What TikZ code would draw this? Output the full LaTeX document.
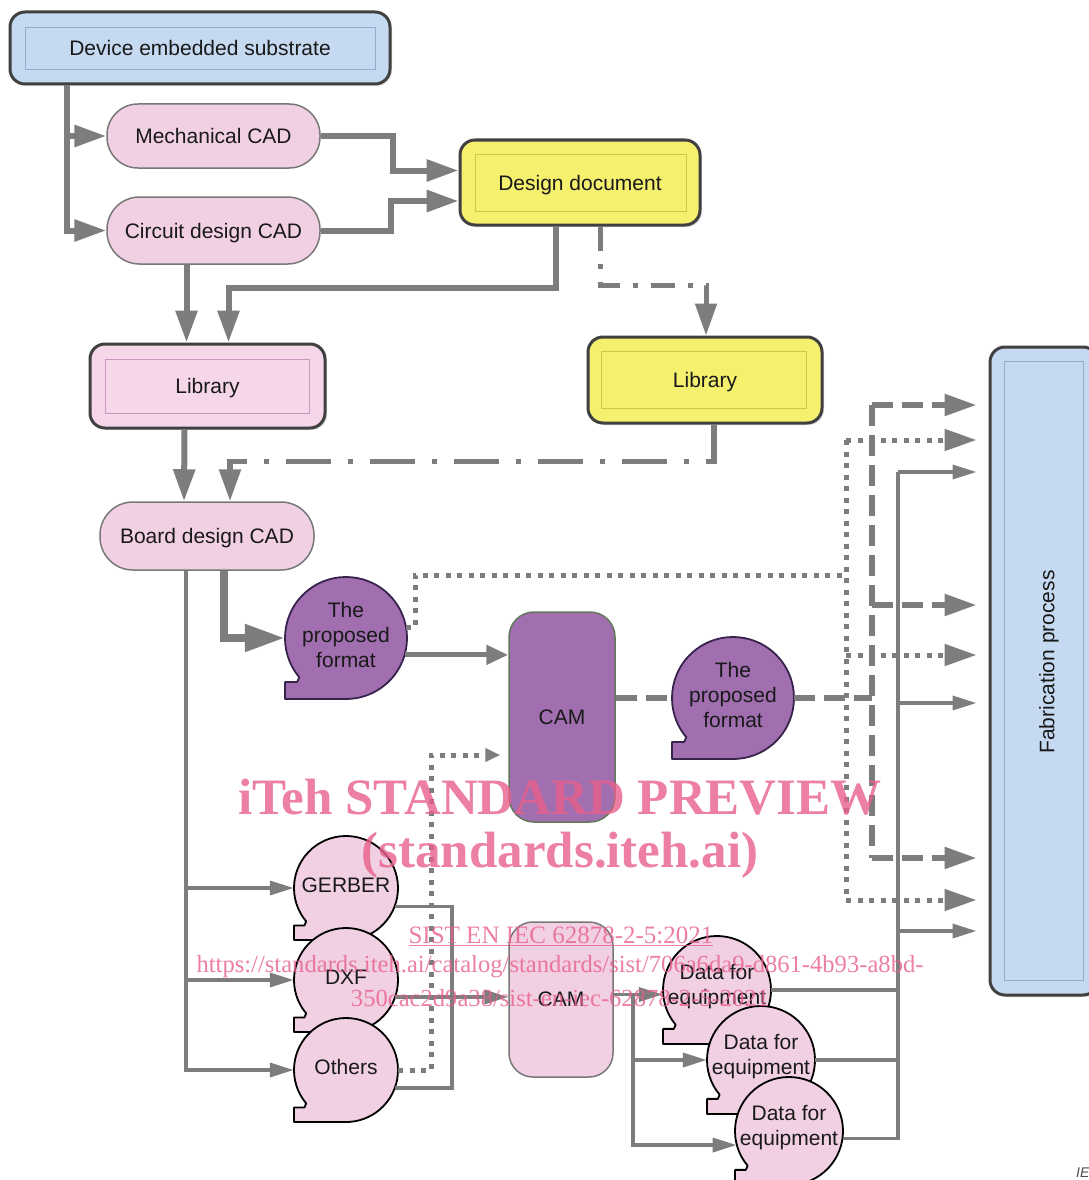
\documentclass[tikz,border=0pt]{standalone}
\usepackage{fontspec}
\setmainfont{Liberation Sans}
\newfontfamily\wmfont{Liberation Serif}
\usetikzlibrary{arrows.meta,calc,shadows}
\definecolor{lnC}{RGB}{125,125,125}
\definecolor{blueF}{RGB}{197,217,241}
\definecolor{blueD}{RGB}{150,172,204}
\definecolor{yelF}{RGB}{245,240,110}
\definecolor{yelD}{RGB}{205,200,80}
\definecolor{libF}{RGB}{246,214,233}
\definecolor{libD}{RGB}{200,150,190}
\definecolor{pillF}{RGB}{242,208,228}
\definecolor{pillD}{RGB}{120,120,120}
\definecolor{purF}{RGB}{161,111,176}
\definecolor{purD}{RGB}{55,35,75}
\definecolor{camD}{RGB}{100,120,90}
\definecolor{pinkF}{RGB}{241,208,227}
\definecolor{wmC}{RGB}{232,95,140}
\definecolor{txtC}{RGB}{25,25,25}
\newcommand\dbub[7]{%
  \filldraw[fill=#5, draw=#6, line width=1.8pt, line join=round]
    (#2,{#3+#4}) -- ({#2-#4},{#3+#4}) -- ({#2-#4},{#3+0.72*#4}) -- ({#2-0.8*#4},{#3+0.72*#4})
    -- ([shift={(#2,#3)}]140:#4) arc[start angle=140,end angle=450,radius=#4] -- cycle;
  \node[circle, minimum size={#4*2pt}, inner sep=0pt] (#1) at (#2,#3) {};
  \node[align=center, inner sep=0pt] (#1t) at ($(#1)+(0,-3)$) {#7};
}
\begin{document}
\begin{tikzpicture}[x=1pt,y=-1pt, font=\fontsize{21}{25}\selectfont, text=txtC,
  outerbox/.style={draw=black!75, line width=3pt, rounded corners=15pt, inner sep=0pt, text depth=0pt,
     drop shadow={opacity=0.25,shadow xshift=2pt,shadow yshift=-2pt}},
  innerbox/.style={line width=1.2pt},
  pill/.style={draw=pillD, fill=pillF, line width=1.5pt, inner sep=0pt, text depth=0pt},
  ln/.style={draw=lnC, line width=6pt},
  thickln/.style={draw=lnC, line width=8pt},
  medln/.style={draw=lnC, line width=5pt},
  thinln/.style={draw=lnC, line width=3.5pt},
  dotln/.style={draw=lnC, line width=5pt, dash pattern=on 5pt off 6.5pt},
  dashln/.style={draw=lnC, line width=5.5pt, dash pattern=on 21pt off 9pt},
  ddA/.style={draw=lnC, line width=5pt, dash pattern=on 24pt off 13pt on 5pt off 13pt},
  ddB/.style={draw=lnC, line width=5.5pt, dash pattern=on 45pt off 17pt on 5pt off 17pt},
  arrT/.style={-{Triangle[length=32pt,width=21pt]}},
  arrL/.style={-{Triangle[length=40pt,width=26pt]}},
  arrM/.style={-{Triangle[length=22pt,width=19pt]}},
  arrD/.style={-{Triangle[length=32pt,width=21pt]}},
  arrS/.style={-{Triangle[length=24pt,width=14pt]}},
  arrX/.style={-{Triangle[length=15pt,width=13pt]}},
  wm/.style={text=wmC, opacity=0.8, inner sep=0pt}
]
\useasboundingbox[fill=white] (0,0) rectangle (1089,1180);

% ---------- boxes ----------
\node[outerbox, fill=blueF, minimum width=380pt, minimum height=72pt] (dev) at (200,48) {Device embedded substrate};
\draw[innerbox, draw=blueD] ($(dev.north west)+(17,17)$) rectangle ($(dev.south east)+(-16,-16)$);

\node[outerbox, fill=yelF, minimum width=240pt, minimum height=85pt] (design) at (580,182.5) {Design document};
\draw[innerbox, draw=yelD] ($(design.north west)+(17,16)$) rectangle ($(design.south east)+(-15,-15)$);

\node[outerbox, fill=yelF, minimum width=234pt, minimum height=86pt] (libR) at (705,380) {Library};
\draw[innerbox, draw=yelD] ($(libR.north west)+(15,16)$) rectangle ($(libR.south east)+(-17,-16)$);

\node[outerbox, fill=libF, minimum width=235pt, minimum height=84pt] (libL) at (207.5,386) {Library};
\draw[innerbox, draw=libD] ($(libL.north west)+(17,17)$) rectangle ($(libL.south east)+(-17,-16)$);

\node[outerbox, fill=blueF, minimum width=108pt, minimum height=648pt] (fab) at (1044,671) {};
\draw[innerbox, draw=blueD] ($(fab.north west)+(16,16)$) rectangle ($(fab.south east)+(-16,-16)$);
\node[rotate=90, inner sep=0pt] (fabt) at (1049,662) {Fabrication process};

\node[pill, rounded corners=31pt, minimum width=213pt, minimum height=64pt] (mech) at (213.5,136) {Mechanical CAD};
\node[pill, rounded corners=32.5pt, minimum width=213pt, minimum height=67pt] (circ) at (213.5,230.5) {Circuit design CAD};
\node[pill, rounded corners=33pt, minimum width=214pt, minimum height=68pt] (board) at (207,536) {Board design CAD};

\node[draw=camD, fill=purF, line width=1.5pt, rounded corners=25pt, minimum width=106pt, minimum height=210pt] (cam) at (562,717) {CAM};
\node[draw=pillD, fill=pinkF, line width=1.5pt, rounded corners=24pt, minimum width=104pt, minimum height=155pt] (camB) at (561,999.5) {CAM};

% ---------- bubbles ----------
\dbub{pf1}{346}{638}{61}{purF}{purD}{The\\proposed\\format}
\dbub{pf2}{733}{698}{61}{purF}{purD}{The\\proposed\\format}
\dbub{gerber}{346}{888}{52}{pinkF}{black}{GERBER}
\dbub{dxf}{346}{980}{52}{pinkF}{black}{DXF}
\dbub{others}{346}{1070}{52}{pinkF}{black}{Others}
\dbub{dfe1}{717}{990}{54}{pinkF}{black}{Data for\\equipment}
\dbub{dfe2}{761}{1060}{54}{pinkF}{black}{Data for\\equipment}
\dbub{dfe3}{789}{1131}{54}{pinkF}{black}{Data for\\equipment}

% ---------- top connectors ----------
\draw[ln, arrT] ($(dev.south west)+(58,0)$) |- (mech.west);
\draw[ln, arrT] ($(dev.south west)+(58,0)$) |- (circ.west);
\draw[ln, arrT] (mech.east) -- ++(72,0) |- ($(design.west)+(0,-12)$);
\draw[ln, arrT] (circ.east) -- ++(70,0) |- ($(design.west)+(0,18.5)$);
\draw[ln, arrT] ($(circ.south)+(-27,0)$) -- ($(libL.north)+(-21,0)$);
\draw[ln, arrT] ($(design.south)+(-24,0)$) -- ++(0,61) -| ($(libL.north)+(21,0)$);
\draw[ddA, arrT] ($(design.south)+(20,0)$) -- ++(0,59) -| ($(libR.north)+(1,0)$);
\draw[ln, arrT] ($(libL.south)+(-23,0)$) -- ($(board.north)+(-23,0)$);
\draw[ddB, arrT] ($(libR.south)+(9,0)$) -- ++(0,37) -| ($(board.north)+(23,0)$);

% ---------- middle ----------
\draw[thickln, arrL] ($(board.south)+(17,0)$) |- (pf1.west);
\draw[medln, arrM] (pf1.-16) -- (pf1.-16 -| cam.west);

\coordinate (fin) at ($(fab.west)+(-12,0)$);
\coordinate (dtop) at (846,440);
\coordinate (dmid) at (846,655);
\coordinate (dbot) at (846,900);
\coordinate (djoin) at (846,575);
\coordinate (stop) at (872,405);
\coordinate (smid) at (872,605);
\coordinate (sbot) at (872,858);
\coordinate (sjoin) at (872,698);
\coordinate (ltop) at (898,472);
\coordinate (lmid) at (898,703);
\coordinate (lbot) at (898,931);

\draw[dotln] (pf1.10) -- ++(9,0) |- (djoin);
\draw[dotln] (dtop) -- (dbot);
\foreach \c in {dtop,dmid,dbot} \draw[dotln, arrD] (\c) -- (\c -| fin);

\draw[dashln] ($(cam.east)+(0,-19)$) -- (pf2.west);
\draw[dashln] (pf2.east) -- (sjoin);
\draw[dashln] (stop) -- (sbot);
\foreach \c in {stop,smid,sbot} \draw[dashln, arrD] (\c) -- (\c -| fin);

\draw[thinln] (ltop) |- (dfe3.-8);
\draw[thinln] (dfe1.east) -- (dfe1.east -| ltop);
\draw[thinln] (dfe2.east) -- (dfe2.east -| ltop);
\foreach \c in {ltop,lmid,lbot} \draw[thinln, arrS] (\c) -- (\c -| fin);

% ---------- bottom ----------
\draw[thinln, arrS] ($(board.south)+(-21,0)$) |- (gerber.west);
\draw[thinln, arrS] ($(board.south)+(-21,0)$) |- (dxf.west);
\draw[thinln, arrS] ($(board.south)+(-21,0)$) |- (others.west);

\coordinate (jx) at (452,997);
\draw[thinln] (gerber.-21) -| (jx);
\draw[thinln] (others.-20) -| (jx);
\draw[thinln, arrS] (dxf.-19) -- (dxf.-19 -| camB.west);
\draw[dotln, arrX] (others.east) -- ++(33,0) |- ($(cam.west)+(-8,38)$);

\coordinate (cbo) at ($(camB.east)+(0,-5)$);
\draw[thinln, arrS] (cbo) -- (cbo -| dfe1.west);
\draw[thinln, arrS] (cbo) -- ++(19,0) |- (dfe2.west);
\draw[thinln, arrS] (cbo) -- ++(19,0) |- (dfe3.195);

% ---------- corner label ----------
\node[font=\fontsize{14}{16}\selectfont\itshape, text=black!70, anchor=west, inner sep=0pt] (iec) at (1076,1173) {IEC};

% ---------- watermark ----------
\node[wm, font=\wmfont\bfseries\fontsize{51}{56}\selectfont] (wm1) at (560,797) {iTeh STANDARD PREVIEW};
\node[wm, font=\wmfont\bfseries\fontsize{51}{56}\selectfont] (wm2) at (560,855) {(standards.iteh.ai)};
\node[wm, font=\wmfont\fontsize{25}{28}\selectfont] (wm3) at (561,936) {\underline{SIST EN IEC 62878-2-5:2021}};
\node[wm, font=\wmfont\fontsize{24.6}{28}\selectfont] (wm4) at (560,967) {https://standards.iteh.ai/catalog/standards/sist/706a6da9-d861-4b93-a8bd-};
\node[wm, font=\wmfont\fontsize{24.6}{28}\selectfont] (wm5) at (560,998) {350cac2d9a38/sist-en-iec-62878-2-5-2021};
\end{tikzpicture}
\end{document}
